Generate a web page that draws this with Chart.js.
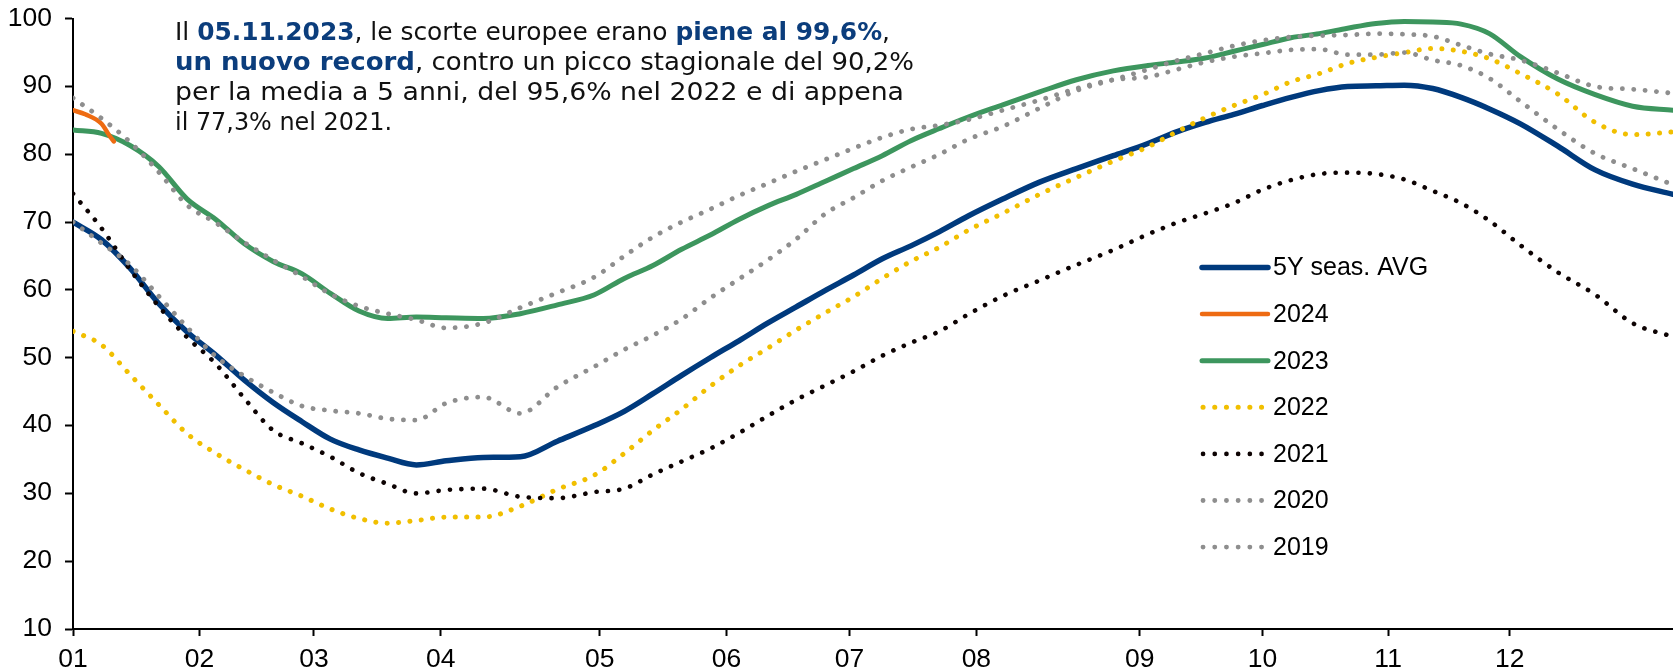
<!DOCTYPE html>
<html lang="it">
<head>
<meta charset="utf-8">
<title>Stoccaggi gas UE</title>
<script src="https://cdn.jsdelivr.net/npm/chart.js@4.4.1/dist/chart.umd.min.js"></script>
<style>
  html, body { margin: 0; padding: 0; background: #fff; }
  #wrap { width: 1673px; height: 672px; }
</style>
</head>
<body>
<div id="wrap"><canvas id="storage" width="1673" height="672"></canvas></div>
<script>
// position of each weekly sample along the axis
const weekPos = [0, 6.50, 13.01, 19.51, 26.01, 32.53, 39.05, 45.58, 52.10, 58.63, 65.15, 71.68,
  78.21, 85.01, 93.45, 101.90, 110.35, 118.79, 125.59, 132.12, 138.65, 145.17, 151.70, 158.23,
  164.77, 171.30, 177.83, 184.36, 190.88, 197.41, 203.94, 211.80, 220.20, 228.60, 237.00, 244.87,
  251.40, 257.93, 264.47, 271.00, 277.46, 283.92, 290.37, 296.83, 303.29, 309.76, 316.22, 322.68,
  329.74, 338.26, 346.78, 355.30, 364.5];
const pos2024 = [0, 2.79, 6.50, 8.36, 9.29];

// where the month labels sit on the axis
const monthTicks = [0, 28.8, 54.9, 83.8, 120.0, 148.9, 176.9, 205.8, 243.0, 271.0, 299.6, 327.3];
const monthLabels = ['01', '02', '03', '04', '05', '06', '07', '08', '09', '10', '11', '12'];

// storage level, % of capacity
const avg5y = [70.0, 67.4, 63.2, 58.0, 53.8, 50.4, 46.7, 43.4, 40.6, 38.0, 36.4, 35.2, 34.2, 34.8,
  35.3, 35.4, 37.7, 40.0, 42.1, 44.7, 47.4, 50.0, 52.5, 55.1, 57.5, 59.9, 62.2, 64.6, 66.5, 68.6,
  70.9, 73.4, 75.9, 77.9, 79.8, 81.6, 83.3, 84.7, 85.9, 87.2, 88.4, 89.4, 90.0, 90.1, 90.2, 89.7,
  88.4, 86.7, 84.5, 81.2, 77.7, 75.6, 74.1];
const y2024 = [86.5, 85.9, 84.5, 82.7, 81.9];
const y2023 = [83.6, 83.1, 81.3, 78.2, 73.4, 70.4, 66.8, 64.2, 62.4, 59.5, 56.9, 55.8, 56.0, 55.9,
  55.8, 56.5, 57.8, 59.3, 61.7, 63.6, 66.0, 68.1, 70.4, 72.4, 74.1, 76.0, 77.9, 79.8, 82.0, 83.8,
  85.5, 87.3, 89.2, 91.0, 92.3, 93.1, 93.6, 94.2, 95.2, 96.2, 97.2, 97.8, 98.6, 99.3, 99.6, 99.5,
  99.2, 97.8, 94.4, 91.1, 88.8, 87.1, 86.5];
const y2022 = [53.9, 51.9, 47.5, 43.1, 38.8, 35.9, 33.5, 31.3, 29.6, 27.7, 26.3, 25.6, 26.0, 26.5,
  26.5, 28.1, 30.6, 32.7, 35.9, 39.3, 42.4, 45.8, 48.8, 51.4, 54.1, 56.6, 59.0, 61.7, 64.2, 66.3,
  68.8, 71.3, 74.1, 76.6, 79.0, 81.1, 83.3, 85.4, 87.2, 88.8, 90.7, 91.9, 93.4, 94.3, 95.0, 95.6,
  95.2, 94.1, 91.9, 88.9, 84.7, 82.9, 83.3];
const y2021 = [74.2, 69.1, 63.0, 57.6, 53.0, 49.1, 44.0, 39.3, 37.4, 35.4, 33.0, 31.4, 30.0, 30.5,
  30.7, 29.5, 29.3, 30.2, 30.7, 32.8, 34.7, 36.6, 38.9, 41.4, 43.8, 45.9, 48.0, 50.3, 52.2, 53.9,
  56.4, 59.1, 61.4, 63.7, 65.9, 68.2, 69.9, 71.3, 72.8, 74.8, 76.2, 77.1, 77.3, 77.1, 76.3, 74.6,
  72.8, 70.2, 66.6, 62.6, 59.3, 55.1, 53.1];
const y2020 = [88.3, 85.3, 81.8, 77.4, 72.5, 69.9, 67.0, 64.4, 62.0, 59.4, 57.6, 56.5, 55.6, 54.4,
  55.1, 57.4, 59.6, 61.9, 65.0, 67.8, 70.0, 71.9, 73.9, 75.7, 77.5, 79.2, 80.9, 82.5, 83.7, 84.3,
  85.1, 86.5, 88.0, 89.7, 91.0, 91.4, 92.5, 93.6, 94.4, 94.9, 95.4, 95.5, 94.7, 94.7, 95.0, 93.9,
  93.1, 91.2, 87.8, 83.7, 80.1, 77.9, 75.5];
const y2019 = [70.0, 66.9, 63.7, 59.1, 54.5, 50.2, 47.3, 44.9, 42.9, 42.2, 41.8, 41.0, 40.8, 43.3,
  44.2, 41.8, 45.7, 48.7, 51.2, 53.3, 55.7, 58.8, 61.6, 64.4, 67.5, 71.2, 73.6, 76.1, 78.1, 80.0,
  82.2, 84.1, 86.8, 89.4, 91.0, 92.5, 93.8, 94.9, 96.0, 96.8, 97.3, 97.5, 97.6, 97.8, 97.7, 97.4,
  96.1, 94.8, 93.9, 92.0, 90.0, 89.6, 89.0];

const FONT = '"Liberation Sans", Arial, sans-serif';

function toPoints(xs, ys) {
  return ys.map((v, i) => ({ x: xs[i], y: v }));
}

function solid(label, xs, ys, color, width, order) {
  return { label, data: toPoints(xs, ys), borderColor: color, borderWidth: width,
    borderCapStyle: 'round', borderJoinStyle: 'round', order };
}

function dotted(label, ys, color, width, order) {
  return { label, data: toPoints(weekPos, ys), borderColor: color, borderWidth: width,
    borderDash: [0.1, 11.3], borderCapStyle: 'round', order };
}

// tick labels, drawn slightly widened like the original export
const axisLabels = {
  id: 'axisLabels',
  afterDraw(chart) {
    const ctx = chart.ctx;
    const xs = chart.scales.x;
    const ys = chart.scales.y;
    ctx.save();
    ctx.font = '25px ' + FONT;
    ctx.fillStyle = '#000';
    ctx.textBaseline = 'middle';
    ctx.textAlign = 'right';
    ys.ticks.forEach(t => {
      ctx.save();
      ctx.translate(52, ys.getPixelForValue(t.value));
      ctx.scale(1.06, 1);
      ctx.fillText(String(t.value), 0, 0);
      ctx.restore();
    });
    ctx.textAlign = 'center';
    xs.ticks.forEach((t, i) => {
      ctx.save();
      ctx.translate(xs.getPixelForValue(t.value), 660);
      ctx.scale(1.06, 1);
      ctx.fillText(monthLabels[i], 0, 0);
      ctx.restore();
    });
    ctx.restore();
  }
};

// legend drawn inside the plot, right side
const legendRows = {
  id: 'legendRows',
  afterDraw(chart) {
    const ctx = chart.ctx;
    ctx.save();
    ctx.font = '25px ' + FONT;
    ctx.textBaseline = 'middle';
    ctx.lineCap = 'round';
    chart.data.datasets.forEach((ds, i) => {
      const y = 267.5 + i * 46.6;
      ctx.strokeStyle = ds.borderColor;
      ctx.lineWidth = ds.borderWidth;
      ctx.beginPath();
      if (ds.borderDash) {
        ctx.setLineDash([0.1, 11.6]);
        ctx.moveTo(1203, y);
        ctx.lineTo(1262, y);
      } else {
        ctx.setLineDash([]);
        ctx.moveTo(1202, y);
        ctx.lineTo(1268, y);
      }
      ctx.stroke();
      ctx.setLineDash([]);
      ctx.fillStyle = '#000';
      ctx.fillText(ds.label, 1273, y + 1);
    });
    ctx.restore();
  }
};

// note in the top left corner, bold runs in blue
const noteLines = [
  [['Il ', false], ['05.11.2023', true], [', le scorte europee erano ', false], ['piene al 99,6%', true], [',', false]],
  [['un nuovo record', true], [', contro un picco stagionale del 90,2%', false]],
  [['per la media a 5 anni, del 95,6% nel 2022 e di appena', false]],
  [['il 77,3% nel 2021.', false]]
];
const noteWidths = [715, 739, 729, 217];

const noteText = {
  id: 'noteText',
  afterDraw(chart) {
    const ctx = chart.ctx;
    const fam = '"DejaVu Sans", sans-serif';
    const setFont = bold => { ctx.font = (bold ? 'bold ' : '') + '24px ' + fam; };
    const lineWidth = parts => parts.reduce((w, p) => { setFont(p[1]); return w + ctx.measureText(p[0]).width; }, 0);
    ctx.save();
    ctx.textBaseline = 'alphabetic';
    noteLines.forEach((parts, i) => {
      let x = 0;
      ctx.save();
      ctx.translate(175, 39.5 + i * 30.3);
      ctx.scale(noteWidths[i] / lineWidth(parts), 1);
      parts.forEach(p => {
        setFont(p[1]);
        ctx.fillStyle = p[1] ? '#0b3d7c' : '#111';
        ctx.fillText(p[0], x, 0);
        x += ctx.measureText(p[0]).width;
      });
      ctx.restore();
    });
    ctx.restore();
  }
};

new Chart(document.getElementById('storage'), {
  type: 'line',
  data: {
    datasets: [
      solid('5Y seas. AVG', weekPos, avg5y, '#003a7d', 5.5, 7),
      solid('2024', pos2024, y2024, '#ee6b12', 4.5, 5),
      solid('2023', weekPos, y2023, '#3d965e', 5, 6),
      dotted('2022', y2022, '#f1bf00', 5, 4),
      dotted('2021', y2021, '#0d0303', 4.6, 3),
      dotted('2020', y2020, '#8e8e8e', 4.8, 2),
      dotted('2019', y2019, '#8e8e8e', 4.8, 1)
    ]
  },
  options: {
    responsive: false,
    animation: false,
    devicePixelRatio: 1,
    layout: { padding: { top: 18.7, right: 0, bottom: 0, left: 0 } },
    elements: {
      point: { radius: 0 },
      line: { cubicInterpolationMode: 'monotone', fill: false }
    },
    plugins: {
      legend: { display: false },
      tooltip: { enabled: false }
    },
    scales: {
      x: {
        type: 'linear',
        min: 0,
        max: 364.5,
        afterBuildTicks: s => { s.ticks = monthTicks.map(v => ({ value: v })); },
        afterFit: s => { s.height = 43; s.paddingLeft = 0; s.paddingRight = 0; },
        ticks: { display: false, autoSkip: false, maxRotation: 0 },
        grid: { drawOnChartArea: false, tickLength: 7, color: '#000', tickWidth: 2 },
        border: { color: '#000', width: 2 }
      },
      y: {
        min: 10,
        max: 100,
        afterFit: s => { s.width = 73; s.paddingTop = 0; s.paddingBottom = 0; },
        ticks: { display: false, stepSize: 10 },
        grid: { drawOnChartArea: false, tickLength: 8, color: '#000', tickWidth: 2 },
        border: { color: '#000', width: 2 }
      }
    }
  },
  plugins: [axisLabels, legendRows, noteText]
});
</script>
</body>
</html>
